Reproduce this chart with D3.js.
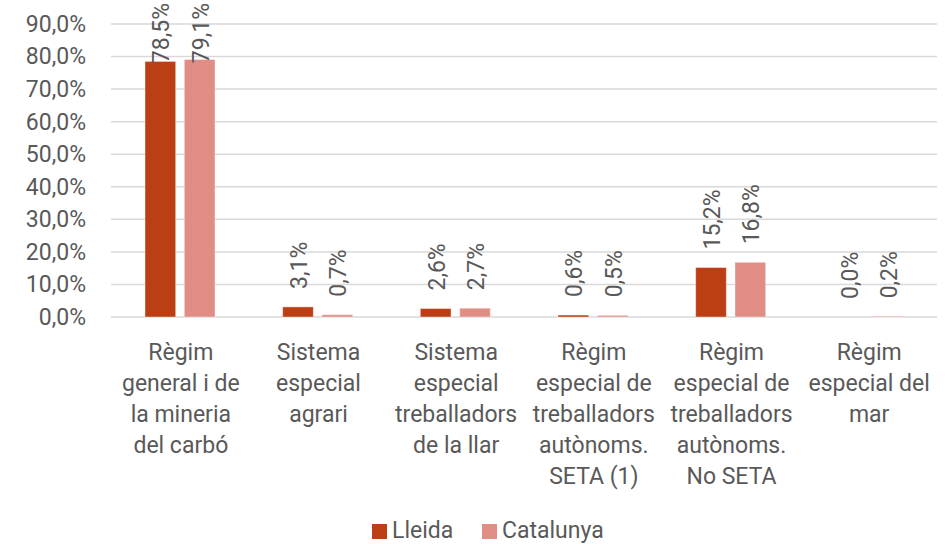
<!DOCTYPE html>
<html>
<head>
<meta charset="utf-8">
<script src="https://cdn.jsdelivr.net/npm/d3@7"></script>
<style>
  body { margin: 0; background: #fff; }
  text { font-family: Roboto, sans-serif; fill: #595959; }
</style>
</head>
<body>
<div id="chart"></div>
<script>
// data
var categories = [
  ["Règim", "general i de", "la mineria", "del carbó"],
  ["Sistema", "especial", "agrari"],
  ["Sistema", "especial", "treballadors", "de la llar"],
  ["Règim", "especial de", "treballadors", "autònoms.", "SETA (1)"],
  ["Règim", "especial de", "treballadors", "autònoms.", "No SETA"],
  ["Règim", "especial del", "mar"]
];
var lleida = [78.5, 3.1, 2.6, 0.6, 15.2, 0.0];
var catalunya = [79.1, 0.7, 2.7, 0.5, 16.8, 0.2];
var seriesNames = ["Lleida", "Catalunya"];
var colors = ["#BC3E14", "#E08D86"];
var yTicks = [0, 10, 20, 30, 40, 50, 60, 70, 80, 90];

var W = 948, H = 544;
var margin = {top: 24, right: 11, bottom: 227, left: 111};
var width = W - margin.left - margin.right,
    height = H - margin.top - margin.bottom;
var fs = "23px";

var svg = d3.select("#chart").append("svg")
    .attr("width", W).attr("height", H)
  .append("g")
    .attr("transform", "translate(" + margin.left + "," + margin.top + ")");

var fmt = function(v) { return d3.format(".1f")(v).replace(".", ",") + "%"; };

var x = d3.scaleBand().domain(d3.range(categories.length)).range([0, width]);
var x1 = d3.scaleBand().domain([0, 1]).range([34, 104]).paddingInner(0.22);
var y = d3.scaleLinear().domain([0, 90]).range([height, 0]);

// grid
svg.append("g").selectAll("line").data(yTicks).enter().append("line")
  .attr("x1", 0).attr("x2", width)
  .attr("y1", function(d) { return y(d); }).attr("y2", function(d) { return y(d); })
  .attr("stroke", "#d9d9d9").attr("stroke-width", 1.5);

// y axis
var yAxis = svg.append("g")
  .call(d3.axisLeft(y).tickValues(yTicks).tickFormat(fmt).tickSize(0).tickPadding(25));
yAxis.select(".domain").remove();
yAxis.selectAll("text").style("font-size", fs).attr("fill", "#595959")
  .style("font-family", "Roboto, sans-serif");

// bars
var data = [];
categories.forEach(function(c, i) {
  data.push({i: i, s: 0, v: lleida[i]});
  data.push({i: i, s: 1, v: catalunya[i]});
});

svg.selectAll("rect.bar").data(data).enter().append("rect")
  .attr("class", "bar")
  .attr("x", function(d) { return x(d.i) + x1(d.s); })
  .attr("width", x1.bandwidth())
  .attr("y", function(d) { return y(d.v); })
  .attr("height", function(d) { return height - y(d.v); })
  .attr("fill", function(d) { return colors[d.s]; })
  .attr("stroke", "#fff").attr("stroke-opacity", 0.4).attr("stroke-width", 1);

// value labels (rotated, kept inside the top of the plot)
svg.selectAll("text.val").data(data).enter().append("text")
  .attr("class", "val")
  .style("font-size", fs)
  .text(function(d) { return fmt(d.v); })
  .attr("transform", function(d) {
    var len = this.getComputedTextLength();
    var start = Math.max(y(d.v) - 18, len - margin.top + 3);
    return "translate(" + (x(d.i) + x1(d.s) + x1.bandwidth() / 2 + 9) + "," + start + ") rotate(-90)";
  });

// category labels
var cat = svg.selectAll("text.cat").data(categories).enter().append("text")
  .attr("class", "cat")
  .attr("text-anchor", "middle")
  .attr("x", function(d, i) { return x(i) + x.bandwidth() / 2 + 1; })
  .attr("y", height + 43)
  .style("font-size", fs);
cat.selectAll("tspan").data(function(d) { return d; }).enter().append("tspan")
  .attr("x", function() { return d3.select(this.parentNode).attr("x"); })
  .attr("dy", function(d, j) { return j === 0 ? 0 : 31; })
  .text(function(d) { return d; });

// legend
var legend = d3.select("svg").append("g").attr("transform", "translate(372,530)");
var lx = [0, 110];
seriesNames.forEach(function(n, i) {
  legend.append("rect").attr("x", lx[i]).attr("y", -6).attr("width", 15).attr("height", 15)
    .attr("fill", colors[i]);
  legend.append("text").attr("x", lx[i] + 20).attr("y", 8).style("font-size", fs).text(n);
});
</script>
</body>
</html>
